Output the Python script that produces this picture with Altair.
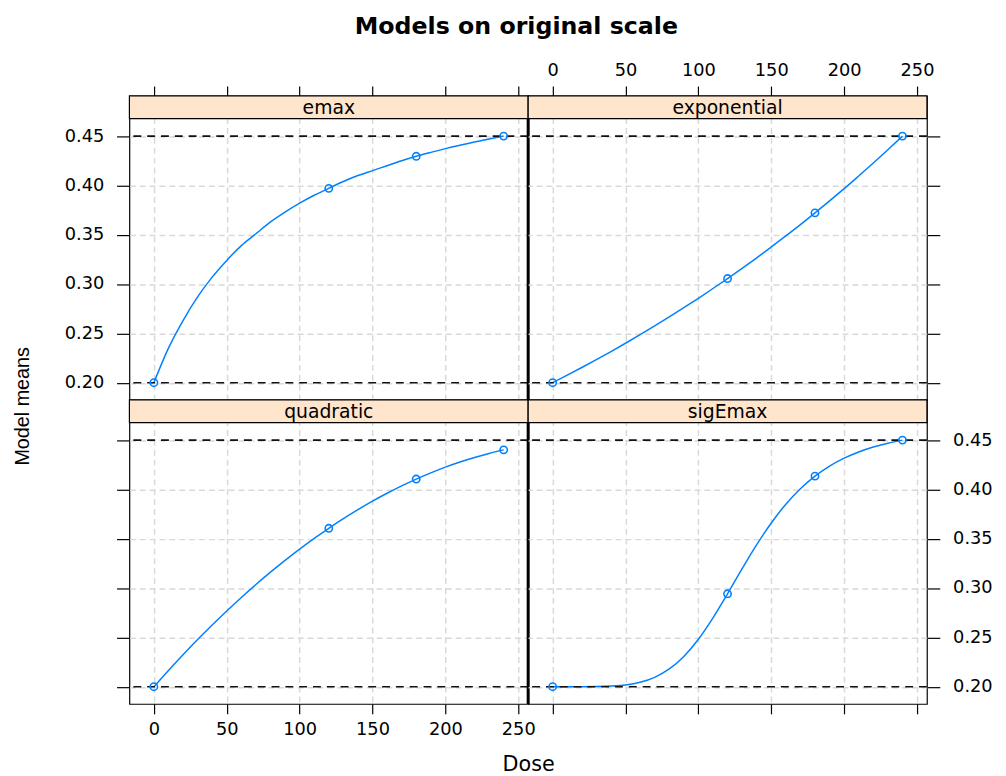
import altair as alt
import pandas as pd

# ---- data ----
models = ["emax", "exponential", "quadratic", "sigEmax"]
doses = [0, 10, 20, 30, 40, 50, 60, 70, 80, 90, 100, 110, 120,
         130, 140, 150, 160, 170, 180, 190, 200, 210, 220, 230, 240]
emax_curve = [0.200, 0.235, 0.263, 0.287, 0.307, 0.324, 0.339, 0.351, 0.363,
              0.373, 0.382, 0.390, 0.397, 0.404, 0.410, 0.415, 0.420, 0.425,
              0.4295, 0.4335, 0.4373, 0.4408, 0.4441, 0.4471, 0.450]
exponential_curve = [0.2000, 0.2076, 0.2154, 0.2234, 0.2316, 0.2400, 0.2487,
                     0.2576, 0.2667, 0.2760, 0.2856, 0.2955, 0.3056, 0.3160,
                     0.3266, 0.3376, 0.3488, 0.3603, 0.3722, 0.3843, 0.3967,
                     0.4096, 0.4227, 0.4362, 0.4500]
quadratic_curve = [0.2000, 0.2165, 0.2324, 0.2478, 0.2626, 0.2768, 0.2905,
                   0.3036, 0.3161, 0.3281, 0.3395, 0.3504, 0.3606, 0.3703,
                   0.3795, 0.3881, 0.3961, 0.4036, 0.4105, 0.4168, 0.4226,
                   0.4278, 0.4324, 0.4365, 0.4401]
sigemax_curve = [0.2000, 0.2000, 0.2000, 0.2001, 0.2006, 0.2018, 0.2045,
                 0.2095, 0.2180, 0.2307, 0.2481, 0.2698, 0.2942, 0.3196,
                 0.3440, 0.3660, 0.3850, 0.4007, 0.4135, 0.4237, 0.4317,
                 0.4380, 0.4430, 0.4469, 0.4500]
obs_doses = [0, 120, 180, 240]
emax_pts = [0.200, 0.397, 0.4295, 0.450]
exponential_pts = [0.200, 0.3056, 0.3722, 0.450]
quadratic_pts = [0.200, 0.3606, 0.4105, 0.4401]
sigemax_pts = [0.200, 0.2942, 0.4135, 0.450]
ref_levels = [0.20, 0.45]
x_ticks = [0, 50, 100, 150, 200, 250]
y_ticks = [0.20, 0.25, 0.30, 0.35, 0.40, 0.45]

# ---- layout constants ----
W, H, SH = 404, 308, 23
XD = [-16.8, 256.8]
YD = [0.1825, 0.4907]
BLUE = "#0080ff"
TICKFONT = "DejaVu Sans"
TF = 18

xs = alt.Scale(domain=XD, nice=False, zero=False)
ys = alt.Scale(domain=YD, nice=False, zero=False)


def make_xaxis(orient, labels, title=None, **kw):
    return alt.Axis(orient=orient, values=x_ticks, labels=labels, ticks=True,
                    tickSize=10, tickColor="black", tickWidth=1.2, domain=False,
                    grid=True, gridColor="#d9d9d9", gridDash=[6, 4], gridWidth=1.5,
                    labelFont=TICKFONT, labelFontSize=TF, labelColor="black",
                    labelPadding=7, title=title, **kw)


def make_yaxis(orient, labels, title=None, **kw):
    return alt.Axis(orient=orient, values=y_ticks, labels=labels, ticks=True,
                    tickSize=13, tickColor="black", tickWidth=1.2, domain=False,
                    grid=True, gridColor="#d9d9d9", gridDash=[6, 4], gridWidth=1.5,
                    labelFont=TICKFONT, labelFontSize=TF, labelColor="black",
                    labelPadding=13, format=".2f", labelFlush=False,
                    title=title, **kw)


def panel(name, curve, pts, xaxis, yaxis, thick_right=False):
    cdf = pd.DataFrame({"dose": doses, "mean": curve})
    pdf = pd.DataFrame({"dose": obs_doses, "mean": pts})
    rdf = pd.DataFrame({"mean": ref_levels})
    one = pd.DataFrame({"k": [0]})

    X = alt.X("dose:Q", scale=xs, axis=xaxis)
    Y = alt.Y("mean:Q", scale=ys, axis=yaxis)

    line = alt.Chart(cdf).mark_line(color=BLUE, strokeWidth=1.5,
                                    interpolate="monotone").encode(x=X, y=Y)
    refs = alt.Chart(rdf).mark_rule(color="#111111", strokeWidth=1.6,
                                    strokeDash=[8, 6]).encode(y=Y)
    points = alt.Chart(pdf).mark_point(shape="circle", filled=False, color=BLUE,
                                       size=55, strokeWidth=1.6, opacity=1).encode(x=X, y=Y)
    strip = alt.Chart(one).mark_rect(fill="#ffe5cc", stroke="black",
                                     strokeWidth=1.2).encode(
        x=alt.value(0), x2=alt.value(W), y=alt.value(0), y2=alt.value(SH))
    label = alt.Chart(one).mark_text(font=TICKFONT, fontSize=19, color="black",
                                     baseline="middle", align="center").encode(
        x=alt.value(W / 2), y=alt.value(SH / 2 + 1), text=alt.value(name))
    layers = [line, refs, points, strip, label]
    if thick_right:
        sep = alt.Chart(one).mark_rule(color="black", strokeWidth=3).encode(
            x=alt.value(W), y=alt.value(SH), y2=alt.value(H))
        layers.append(sep)
    return alt.layer(*layers).properties(width=W, height=H)


p_emax = panel(
    "emax", emax_curve, emax_pts,
    make_xaxis("top", False),
    make_yaxis("left", True, title="Model means", titleX=-108, titleY=314,
               titleAngle=-90, titleFont="Liberation Sans", titleFontSize=20,
               titleFontWeight="normal", titleAlign="center",
               titleBaseline="middle", titleColor="black"),
    thick_right=True)
p_exp = panel(
    "exponential", exponential_curve, exponential_pts,
    make_xaxis("top", True),
    make_yaxis("right", False))
p_quad = panel(
    "quadratic", quadratic_curve, quadratic_pts,
    make_xaxis("bottom", True, title="Dose", titleX=W, titleY=61,
               titleFont=TICKFONT, titleFontSize=21, titleFontWeight="normal",
               titleAlign="center", titleBaseline="middle", titleColor="black"),
    make_yaxis("left", False),
    thick_right=True)
p_sig = panel(
    "sigEmax", sigemax_curve, sigemax_pts,
    make_xaxis("bottom", False),
    make_yaxis("right", True))

chart = alt.concat(p_emax, p_exp, p_quad, p_sig, columns=2, spacing=0,
                   bounds="flush").properties(
    title=alt.TitleParams("Models on original scale", font="DejaVu Sans",
                          fontSize=24, fontWeight="bold", anchor="middle",
                          color="black", offset=22, dx=14),
    padding={"left": 4, "top": 2, "right": 5, "bottom": 5},
).configure_view(stroke="black", strokeWidth=1.2)

chart.save("out.html", embed_options={"renderer": "svg", "actions": False})
